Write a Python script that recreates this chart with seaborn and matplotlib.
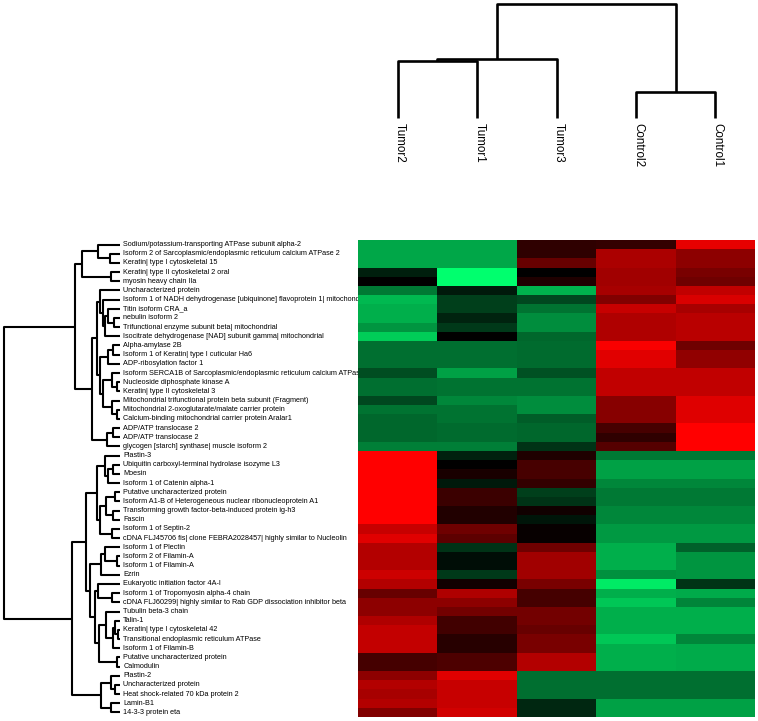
import numpy as np
import pandas as pd
import matplotlib as mpl
import matplotlib.pyplot as plt
import seaborn as sns
from matplotlib.colors import LinearSegmentedColormap

# Data
samples = ["Tumor2", "Tumor1", "Tumor3", "Control2", "Control1"]

proteins = [
    "Sodium/potassium-transporting ATPase subunit alpha-2",
    "Isoform 2 of Sarcoplasmic/endoplasmic reticulum calcium ATPase 2",
    "Keratin| type I cytoskeletal 15",
    "Keratin| type II cytoskeletal 2 oral",
    "myosin heavy chain IIa",
    "Uncharacterized protein",
    "Isoform 1 of NADH dehydrogenase [ubiquinone] flavoprotein 1| mitochondrial",
    "Titin isoform CRA_a",
    "nebulin isoform 2",
    "Trifunctional enzyme subunit beta| mitochondrial",
    "Isocitrate dehydrogenase [NAD] subunit gamma| mitochondrial",
    "Alpha-amylase 2B",
    "Isoform 1 of Keratin| type I cuticular Ha6",
    "ADP-ribosylation factor 1",
    "Isoform SERCA1B of Sarcoplasmic/endoplasmic reticulum calcium ATPase 1",
    "Nucleoside diphosphate kinase A",
    "Keratin| type II cytoskeletal 3",
    "Mitochondrial trifunctional protein beta subunit (Fragment)",
    "Mitochondrial 2-oxoglutarate/malate carrier protein",
    "Calcium-binding mitochondrial carrier protein Aralar1",
    "ADP/ATP translocase 2",
    "ADP/ATP translocase 2",
    "glycogen [starch] synthase| muscle isoform 2",
    "Plastin-3",
    "Ubiquitin carboxyl-terminal hydrolase isozyme L3",
    "Moesin",
    "Isoform 1 of Catenin alpha-1",
    "Putative uncharacterized protein",
    "Isoform A1-B of Heterogeneous nuclear ribonucleoprotein A1",
    "Transforming growth factor-beta-induced protein ig-h3",
    "Fascin",
    "Isoform 1 of Septin-2",
    "cDNA FLJ45706 fis| clone FEBRA2028457| highly similar to Nucleolin",
    "Isoform 1 of Plectin",
    "Isoform 2 of Filamin-A",
    "Isoform 1 of Filamin-A",
    "Ezrin",
    "Eukaryotic initiation factor 4A-I",
    "Isoform 1 of Tropomyosin alpha-4 chain",
    "cDNA FLJ60299| highly similar to Rab GDP dissociation inhibitor beta",
    "Tubulin beta-3 chain",
    "Talin-1",
    "Keratin| type I cytoskeletal 42",
    "Transitional endoplasmic reticulum ATPase",
    "Isoform 1 of Filamin-B",
    "Putative uncharacterized protein",
    "Calmodulin",
    "Plastin-2",
    "Uncharacterized protein",
    "Heat shock-related 70 kDa protein 2",
    "Lamin-B1",
    "14-3-3 protein eta",
]

tumor2 = [-0.65, -0.65, -0.65, -0.12, 0.0, -0.47, -0.72, -0.68, -0.68, -0.58,
          -0.8, -0.43, -0.43, -0.43, -0.3, -0.43, -0.43, -0.28, -0.45, -0.4,
          -0.4, -0.4, -0.5, 1.0, 1.0, 1.0, 1.0, 1.0, 1.0, 1.0,
          1.0, 0.78, 0.88, 0.7, 0.7, 0.7, 0.8, 0.7, 0.4, 0.55,
          0.55, 0.68, 0.76, 0.76, 0.76, 0.27, 0.27, 0.55, 0.7, 0.65,
          0.7, 0.5]
tumor1 = [-0.65, -0.65, -0.65, -1.0, -1.0, -0.1, -0.25, -0.25, -0.14, -0.22,
          0.0, -0.43, -0.43, -0.43, -0.63, -0.45, -0.45, -0.53, -0.45, -0.45,
          -0.42, -0.42, -0.5, -0.13, 0.0, 0.1, -0.1, 0.23, 0.23, 0.13,
          0.13, 0.43, 0.36, -0.2, -0.05, -0.05, -0.22, 0.07, 0.68, 0.55,
          0.45, 0.25, 0.25, 0.15, 0.15, 0.3, 0.3, 0.88, 0.78, 0.78,
          0.78, 0.82]
tumor3 = [0.18, 0.18, 0.4, 0.0, 0.12, -0.7, -0.28, -0.45, -0.55, -0.55,
          -0.4, -0.42, -0.42, -0.42, -0.32, -0.45, -0.45, -0.55, -0.55, -0.36,
          -0.4, -0.4, -0.2, 0.12, 0.28, 0.28, 0.2, -0.25, -0.2, 0.07,
          -0.08, 0.03, 0.03, 0.43, 0.63, 0.63, 0.63, 0.47, 0.27, 0.27,
          0.45, 0.45, 0.4, 0.47, 0.47, 0.7, 0.7, -0.43, -0.43, -0.43,
          -0.15, -0.15]
control2 = [0.2, 0.67, 0.67, 0.63, 0.63, 0.65, 0.5, 0.78, 0.68, 0.68,
            0.68, 0.97, 0.88, 0.88, 0.75, 0.75, 0.75, 0.53, 0.53, 0.53,
            0.28, 0.18, 0.33, -0.47, -0.63, -0.63, -0.53, -0.47, -0.47, -0.53,
            -0.53, -0.6, -0.6, -0.68, -0.68, -0.68, -0.57, -0.92, -0.68, -0.78,
            -0.68, -0.68, -0.68, -0.78, -0.68, -0.68, -0.68, -0.43, -0.43, -0.43,
            -0.63, -0.63]
control1 = [0.9, 0.55, 0.55, 0.47, 0.43, 0.75, 0.85, 0.65, 0.72, 0.72,
            0.72, 0.43, 0.57, 0.57, 0.75, 0.75, 0.75, 0.87, 0.87, 0.87,
            1.0, 1.0, 1.0, -0.47, -0.63, -0.63, -0.53, -0.47, -0.47, -0.53,
            -0.53, -0.6, -0.6, -0.38, -0.58, -0.58, -0.58, -0.2, -0.67, -0.52,
            -0.68, -0.68, -0.68, -0.53, -0.67, -0.67, -0.67, -0.43, -0.43, -0.43,
            -0.63, -0.63]

# dendrograms: (left, right, merge height); leaves are row / column indices
col_tree = (((0, 1, 0.50), 2, 0.518), (3, 4, 0.228), 1.0)

# upper row cluster (rows 0-22)
grp_a = ((0, (1, 2, 0.09), 0.19), (3, 4, 0.08), 0.33)
grp_c = (5, (6, ((7, (8, 9, 0.05), 0.1), 10, 0.13), 0.15), 0.17)
grp_d = (((11, 12, 0.06), 13, 0.1),
         ((14, (15, 16, 0.03), 0.07), (17, (18, 19, 0.03), 0.07), 0.15), 0.17)
grp_b = ((grp_c, grp_d, 0.2), ((20, 21, 0.06), 22, 0.11), 0.245)
upper = (grp_a, grp_b, 0.385)

# lower row cluster (rows 23-51)
grp_g1 = ((23, ((24, 25, 0.06), 26, 0.1), 0.13),
          (((27, 28, 0.04), (29, 30, 0.06), 0.12), (31, 32, 0.07), 0.17), 0.2)
grp_g2 = (((33, (34, 35, 0.03), 0.13), 36, 0.16),
          ((37, (38, 39, 0.07), 0.19),
           ((40, ((41, (42, 43, 0.02), 0.04), 44, 0.06), 0.12), (45, 46, 0.03), 0.18), 0.215), 0.26)
grp_h = ((47, (48, 49, 0.04), 0.08), (50, 51, 0.08), 0.16)
lower = ((grp_g1, grp_g2, 0.29), grp_h, 0.41)

row_tree = (upper, lower, 1.0)


def draw_tree(ax, node, vertical):
    if isinstance(node, int):
        return node + 0.5, 0.0
    a, b, h = node
    pa, ha = draw_tree(ax, a, vertical)
    pb, hb = draw_tree(ax, b, vertical)
    hs = [ha, h, h, hb]
    ps = [pa, pa, pb, pb]
    if vertical:
        ax.plot(ps, hs, color="black", lw=1.9, solid_capstyle="butt", clip_on=False)
    else:
        ax.plot(hs, ps, color="black", lw=1.5, solid_capstyle="butt", clip_on=False)
    return (pa + pb) / 2, h


df = pd.DataFrame({"Tumor2": tumor2, "Tumor1": tumor1, "Tumor3": tumor3,
                   "Control2": control2, "Control1": control1}, index=proteins)

cmap = LinearSegmentedColormap.from_list("gbr", [(0, 1.0, 0.43), (0, 0, 0), (1.0, 0, 0)])

W, H = 758, 721
fig = plt.figure(figsize=(W / 100, H / 100), dpi=100)
plt.rcParams['font.family'] = ['Liberation Sans', 'DejaVu Sans']


def box(x0, y0, x1, y1):
    return [x0 / W, 1 - y1 / H, (x1 - x0) / W, (y1 - y0) / H]


ax_hm = fig.add_axes(box(358, 240, 755, 717))
sns.heatmap(df, cmap=cmap, vmin=-1, vmax=1, cbar=False, ax=ax_hm,
            xticklabels=False, yticklabels=False)
ax_hm.set_xlabel("")
ax_hm.set_ylabel("")

# row dendrogram
ax_rd = fig.add_axes(box(4, 240, 120, 717))
draw_tree(ax_rd, row_tree, vertical=False)
ax_rd.set_xlim(1.0, 0)
ax_rd.set_ylim(len(proteins), 0)
ax_rd.axis("off")

# row labels, cut off at the heatmap edge
ax_lab = fig.add_axes(box(122, 240, 358, 717))
ax_lab.set_zorder(-1)
ax_lab.set_xlim(0, 1)
ax_lab.set_ylim(len(proteins), 0)
for i, name in enumerate(proteins):
    ax_lab.text(0.005, i + 0.5, name, fontsize=5.2, va="center", ha="left", clip_on=True)
ax_lab.axis("off")

# column dendrogram
ax_cd = fig.add_axes(box(358, 4, 755, 118))
draw_tree(ax_cd, col_tree, vertical=True)
ax_cd.set_xlim(0, len(samples))
ax_cd.set_ylim(0, 1.0)
ax_cd.axis("off")
tr = mpl.transforms.blended_transform_factory(ax_cd.transData, ax_cd.transAxes)
for j, s in enumerate(samples):
    ax_cd.text(j + 0.53, -0.04, s, rotation=-90, fontsize=8.4, ha="center", va="top", transform=tr)

fig.savefig("out.png", dpi=100)
